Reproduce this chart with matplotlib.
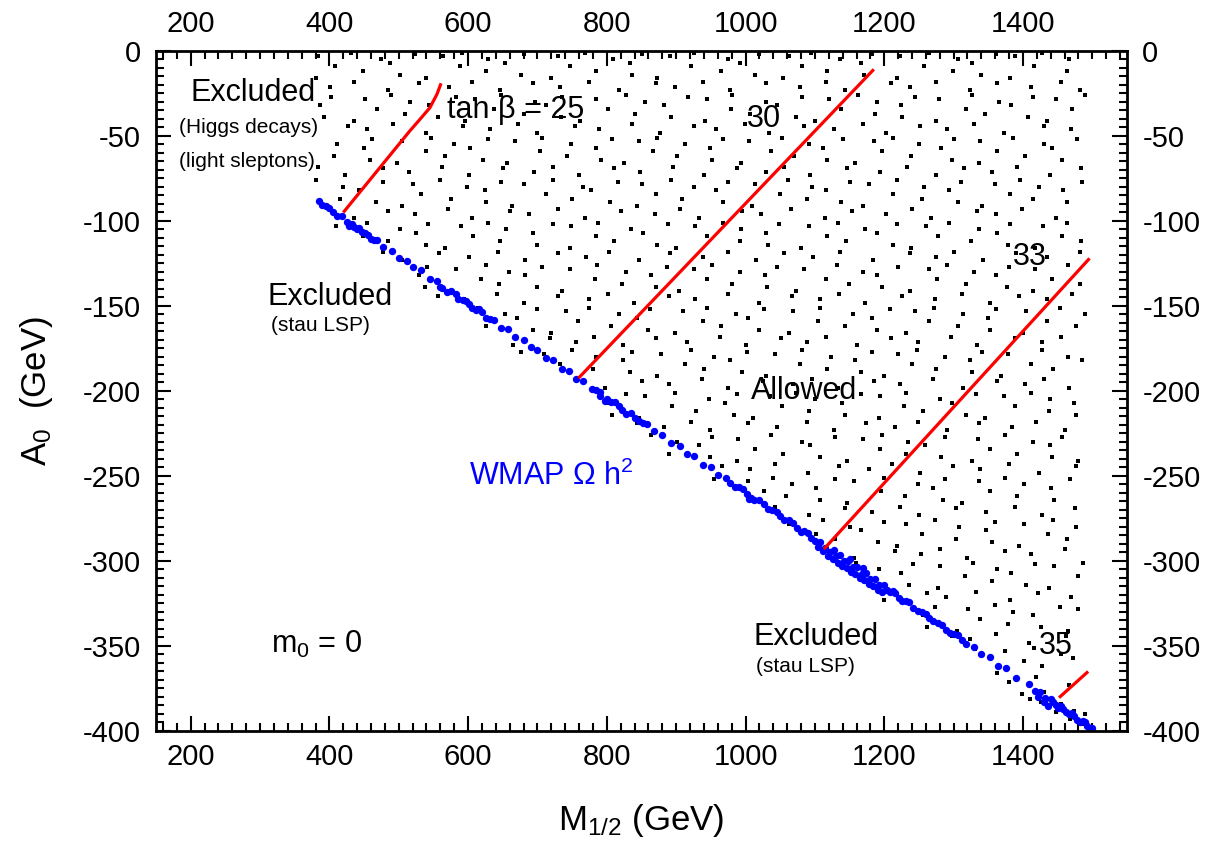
import numpy as np
import matplotlib
matplotlib.use('Agg')
import matplotlib.pyplot as plt
from matplotlib.ticker import MultipleLocator

plt.rcParams['font.family'] = ['Liberation Sans', 'DejaVu Sans']
plt.rcParams['axes.unicode_minus'] = False

# scanned (M1/2, A0) points passing all constraints, m0 = 0 (read band by band)
scan_pts = [
    # A0 0 .. -25
    (381,-16),(383,-3),(401,-21),(408,-9),(431,-1),(436,-18),(448,-12),(475,-5),(484,-23),(487,-7),
    (502,-14),(523,-2),(529,-19),(540,-16),(564,-3),(572,-21),(588,-9),(591,-1),(605,-18),(626,-12),
    (628,-5),(646,-23),(653,-7),(676,-14),(681,-2),(693,-19),(720,-16),(729,-3),(732,-21),(747,-9),
    (768,-1),(774,-18),(785,-12),(809,-5),(817,-23),(833,-7),(836,-14),(850,-2),(871,-19),(873,-16),
    (891,-3),(898,-21),(921,-9),(926,-1),(938,-18),(965,-12),(974,-5),(977,-23),(992,-7),(1013,-14),
    (1019,-2),(1030,-19),(1054,-16),(1062,-3),(1078,-21),(1081,-9),(1095,-1),(1116,-18),(1118,-12),(1136,-5),
    (1143,-23),(1166,-7),(1171,-14),(1183,-2),(1210,-19),(1219,-16),(1222,-3),(1237,-21),(1258,-9),(1264,-1),
    (1275,-18),(1299,-12),(1307,-5),(1323,-23),(1326,-7),(1340,-14),(1361,-2),(1363,-19),(1381,-16),(1388,-3),
    (1411,-21),(1416,-9),(1428,-1),(1455,-18),(1464,-12),(1467,-5),(1482,-23),
    # -25 .. -50
    (386,-32),(392,-39),(403,-27),(427,-44),(435,-41),(451,-28),(454,-46),(468,-34),(489,-26),(491,-43),
    (509,-37),(516,-30),(539,-48),(544,-32),(556,-39),(583,-27),(592,-44),(595,-41),(610,-28),(631,-46),
    (637,-34),(648,-26),(672,-43),(680,-37),(696,-30),(699,-48),(713,-32),(734,-39),(736,-27),(754,-44),
    (761,-41),(784,-28),(789,-46),(801,-34),(828,-26),(837,-43),(840,-37),(855,-30),(876,-48),(882,-32),
    (893,-39),(917,-27),(925,-44),(941,-41),(944,-28),(958,-46),(979,-34),(981,-26),(999,-43),(1006,-37),
    (1029,-30),(1034,-48),(1046,-32),(1073,-39),(1082,-27),(1085,-44),(1100,-41),(1121,-28),(1127,-46),(1138,-34),
    (1162,-26),(1170,-43),(1186,-37),(1189,-30),(1203,-48),(1224,-32),(1226,-39),(1244,-27),(1251,-44),(1274,-41),
    (1279,-28),(1291,-46),(1318,-34),(1327,-26),(1330,-43),(1345,-37),(1366,-30),(1372,-48),(1383,-32),(1407,-39),
    (1415,-27),(1431,-44),(1434,-41),(1448,-28),(1469,-46),(1471,-34),(1489,-26),
    # -50 .. -75
    (383,-68),(406,-62),(411,-55),(423,-73),(450,-57),(459,-64),(462,-52),(477,-69),(498,-66),(504,-53),
    (515,-71),(539,-59),(547,-51),(563,-68),(566,-62),(580,-55),(601,-73),(603,-57),(621,-64),(628,-52),
    (651,-69),(656,-66),(668,-53),(695,-71),(704,-59),(707,-51),(722,-68),(743,-62),(749,-55),(760,-73),
    (784,-57),(792,-64),(808,-52),(811,-69),(825,-66),(846,-53),(848,-71),(866,-59),(873,-51),(896,-68),
    (901,-62),(913,-55),(940,-73),(949,-57),(952,-64),(967,-52),(988,-69),(994,-66),(1005,-53),(1029,-71),
    (1037,-59),(1053,-51),(1056,-68),(1070,-62),(1091,-55),(1093,-73),(1111,-57),(1118,-64),(1141,-52),(1146,-69),
    (1158,-66),(1185,-53),(1194,-71),(1197,-59),(1212,-51),(1233,-68),(1239,-62),(1250,-55),(1274,-73),(1282,-57),
    (1298,-64),(1301,-52),(1315,-69),(1336,-66),(1338,-53),(1356,-71),(1363,-59),(1386,-51),(1391,-68),(1403,-62),
    (1430,-55),(1439,-73),(1442,-57),(1457,-64),(1478,-52),(1484,-69),
    # -75 .. -100
    (381,-76),(402,-93),(416,-87),(419,-80),(435,-98),(443,-82),(467,-89),(478,-77),(484,-94),(505,-91),
    (520,-78),(523,-96),(532,-84),(559,-76),(571,-93),(576,-87),(599,-80),(606,-98),(624,-82),(626,-89),
    (647,-77),(661,-94),(664,-91),(680,-78),(688,-96),(712,-84),(723,-76),(729,-93),(750,-87),(765,-80),
    (768,-98),(777,-82),(804,-89),(816,-77),(821,-94),(844,-91),(851,-78),(869,-96),(871,-84),(892,-76),
    (906,-93),(909,-87),(925,-80),(933,-98),(957,-82),(968,-89),(974,-77),(995,-94),(1010,-91),(1013,-78),
    (1022,-96),(1049,-84),(1061,-76),(1066,-93),(1089,-87),(1096,-80),(1114,-98),(1116,-82),(1137,-89),(1151,-77),
    (1154,-94),(1170,-91),(1178,-78),(1202,-96),(1213,-84),(1219,-76),(1240,-93),(1255,-87),(1258,-80),(1267,-98),
    (1294,-82),(1306,-89),(1311,-77),(1334,-94),(1341,-91),(1359,-78),(1361,-96),(1382,-84),(1396,-76),(1399,-93),
    (1415,-87),(1423,-80),(1447,-98),(1458,-82),(1464,-89),(1485,-77),
    # -100 .. -125
    (410,-103),(449,-109),(454,-101),(477,-118),(484,-112),(502,-105),(504,-123),(525,-107),(539,-114),(542,-102),
    (558,-119),(566,-116),(590,-103),(601,-121),(607,-109),(628,-101),(643,-118),(646,-112),(655,-105),(682,-123),
    (694,-107),(699,-114),(722,-102),(729,-119),(747,-116),(749,-103),(770,-121),(784,-109),(787,-101),(803,-118),
    (811,-112),(835,-105),(846,-123),(852,-107),(873,-114),(888,-102),(891,-119),(900,-116),(927,-103),(939,-121),
    (944,-109),(967,-101),(974,-118),(992,-112),(994,-105),(1015,-123),(1029,-107),(1032,-114),(1048,-102),(1056,-119),
    (1080,-116),(1091,-103),(1097,-121),(1118,-109),(1133,-101),(1136,-118),(1145,-112),(1172,-105),(1184,-123),(1189,-107),
    (1212,-114),(1219,-102),(1237,-119),(1239,-116),(1260,-103),(1274,-121),(1277,-109),(1293,-101),(1301,-118),(1325,-112),
    (1336,-105),(1342,-123),(1363,-107),(1378,-114),(1381,-102),(1390,-119),(1417,-116),(1429,-103),(1434,-121),(1457,-109),
    (1464,-101),(1482,-118),(1484,-112),
    # -125 .. -150
    (529,-132),(538,-139),(541,-127),(556,-144),(577,-141),(583,-128),(594,-146),(618,-134),(626,-126),(642,-143),
    (645,-137),(659,-130),(680,-148),(682,-132),(700,-139),(707,-127),(730,-144),(735,-141),(747,-128),(774,-146),
    (783,-134),(786,-126),(801,-143),(822,-137),(828,-130),(839,-148),(863,-132),(871,-139),(887,-127),(890,-144),
    (904,-141),(925,-128),(927,-146),(945,-134),(952,-126),(975,-143),(980,-137),(992,-130),(1019,-148),(1028,-132),
    (1031,-139),(1046,-127),(1067,-144),(1073,-141),(1084,-128),(1108,-146),(1116,-134),(1132,-126),(1135,-143),(1149,-137),
    (1170,-130),(1172,-148),(1190,-132),(1197,-139),(1220,-127),(1225,-144),(1237,-141),(1264,-128),(1273,-146),(1276,-134),
    (1291,-126),(1312,-143),(1318,-137),(1329,-130),(1353,-148),(1361,-132),(1377,-139),(1380,-127),(1394,-144),(1415,-141),
    (1417,-128),(1435,-146),(1442,-134),(1465,-126),(1470,-143),(1482,-137),
    # -150 .. -175
    (614,-151),(626,-162),(653,-155),(665,-173),(670,-157),(693,-164),(700,-152),(718,-169),(720,-166),(741,-153),
    (755,-171),(758,-159),(774,-151),(782,-168),(806,-162),(817,-155),(823,-173),(844,-157),(859,-164),(862,-152),
    (871,-169),(898,-166),(910,-153),(915,-171),(938,-159),(945,-151),(963,-168),(965,-162),(986,-155),(1000,-173),
    (1003,-157),(1019,-164),(1027,-152),(1051,-169),(1062,-166),(1068,-153),(1089,-171),(1104,-159),(1107,-151),(1116,-168),
    (1143,-162),(1155,-155),(1160,-173),(1183,-157),(1190,-164),(1208,-152),(1210,-169),(1231,-166),(1245,-153),(1248,-171),
    (1264,-159),(1272,-151),(1296,-168),(1307,-162),(1313,-155),(1334,-173),(1349,-157),(1352,-164),(1361,-152),(1388,-169),
    (1400,-166),(1405,-153),(1428,-171),(1435,-159),(1453,-151),(1455,-168),(1476,-162),(1490,-155),
    # -175 .. -200
    (676,-177),(709,-178),(732,-184),(750,-176),(757,-193),(780,-187),(785,-180),(797,-198),(824,-182),(833,-189),
    (836,-177),(851,-194),(872,-191),(878,-178),(889,-196),(913,-184),(921,-176),(937,-193),(940,-187),(954,-180),
    (975,-198),(977,-182),(995,-189),(1002,-177),(1025,-194),(1030,-191),(1042,-178),(1069,-196),(1078,-184),(1081,-176),
    (1096,-193),(1117,-187),(1123,-180),(1134,-198),(1158,-182),(1166,-189),(1182,-177),(1185,-194),(1199,-191),(1220,-178),
    (1222,-196),(1240,-184),(1247,-176),(1270,-193),(1275,-187),(1287,-180),(1314,-198),(1323,-182),(1326,-189),(1341,-177),
    (1362,-194),(1368,-191),(1379,-178),(1403,-196),(1411,-184),(1427,-176),(1430,-193),(1444,-187),(1465,-180),(1467,-198),
    (1485,-182),
    # -200 .. -225
    (801,-207),(807,-214),(828,-202),(843,-219),(846,-216),(855,-203),(882,-221),(894,-209),(899,-201),(922,-218),
    (929,-212),(947,-205),(949,-223),(970,-207),(984,-214),(987,-202),(1003,-219),(1011,-216),(1035,-203),(1046,-221),
    (1052,-209),(1073,-201),(1088,-218),(1091,-212),(1100,-205),(1127,-223),(1139,-207),(1144,-214),(1167,-202),(1174,-219),
    (1192,-216),(1194,-203),(1215,-221),(1229,-209),(1232,-201),(1248,-218),(1256,-212),(1280,-205),(1291,-223),(1297,-207),
    (1318,-214),(1333,-202),(1336,-219),(1345,-216),(1372,-203),(1384,-221),(1389,-209),(1412,-201),(1419,-218),(1437,-212),
    (1439,-205),(1460,-223),(1474,-207),(1477,-214),
    # -225 .. -250
    (863,-226),(890,-237),(901,-230),(933,-232),(949,-239),(952,-227),(966,-244),(987,-241),(989,-228),(1007,-246),
    (1014,-234),(1037,-226),(1042,-243),(1054,-237),(1081,-230),(1090,-248),(1093,-232),(1108,-239),(1129,-227),(1135,-244),
    (1146,-241),(1170,-228),(1178,-246),(1194,-234),(1197,-226),(1211,-243),(1232,-237),(1234,-230),(1252,-248),(1259,-232),
    (1282,-239),(1287,-227),(1299,-244),(1326,-241),(1335,-228),(1338,-246),(1353,-234),(1374,-226),(1380,-243),(1391,-237),
    (1415,-230),(1423,-248),(1439,-232),(1442,-239),(1456,-227),(1477,-244),(1479,-241),
    # -250 .. -275
    (955,-252),(1003,-253),(1026,-259),(1040,-251),(1043,-268),(1059,-262),(1067,-255),(1091,-273),(1102,-257),(1108,-264),
    (1129,-252),(1144,-269),(1147,-266),(1156,-253),(1183,-271),(1195,-259),(1200,-251),(1223,-268),(1230,-262),(1248,-255),
    (1250,-273),(1271,-257),(1285,-264),(1288,-252),(1304,-269),(1312,-266),(1336,-253),(1347,-271),(1353,-259),(1374,-251),
    (1389,-268),(1392,-262),(1401,-255),(1428,-273),(1440,-257),(1445,-264),(1468,-252),(1475,-269),
    # -275 .. -300
    (1063,-278),(1102,-284),(1111,-276),(1114,-293),(1129,-287),(1150,-280),(1156,-298),(1167,-282),(1191,-289),(1199,-277),
    (1215,-294),(1218,-291),(1232,-278),(1253,-296),(1255,-284),(1273,-276),(1280,-293),(1303,-287),(1308,-280),(1320,-298),
    (1347,-282),(1356,-289),(1359,-277),(1374,-294),(1395,-291),(1401,-278),(1412,-296),(1436,-284),(1444,-276),(1460,-293),
    (1463,-287),(1477,-280),
    # -300 .. -325
    (1159,-301),(1176,-312),(1192,-305),(1200,-323),(1224,-307),(1235,-314),(1241,-302),(1262,-319),(1277,-316),(1280,-303),
    (1289,-321),(1316,-309),(1328,-301),(1333,-318),(1356,-312),(1363,-305),(1381,-323),(1383,-307),(1404,-314),(1418,-302),
    (1421,-319),(1437,-316),(1445,-303),(1469,-321),(1480,-309),(1486,-301),
    # -325 .. -350
    (1256,-332),(1262,-339),(1273,-327),(1297,-344),(1305,-341),(1321,-328),(1324,-346),(1338,-334),(1359,-326),(1361,-343),
    (1379,-337),(1386,-330),(1409,-348),(1414,-332),(1426,-339),(1453,-327),(1462,-344),(1465,-341),(1480,-328),
    # -350 .. -400
    (1331,-352),(1363,-366),(1374,-353),(1380,-371),(1401,-359),(1416,-351),(1419,-368),(1428,-362),(1455,-355),(1467,-373),
    (1472,-357),
    (1398,-378),(1410,-381),(1426,-383),(1431,-377),(1447,-389),(1455,-384),(1468,-393),(1474,-388),(1486,-396),(1489,-390),
]

# points with WMAP relic density
wmap_pts = [
    (385,-88.0),(390,-90.4),(395,-91.0),(400,-92.6),(405,-94.9),(411,-96.9),(418,-97.2),(425,-100.6),(428,-102.8),(433,-101.5),
    (436,-103.6),(440,-104.8),(443,-104.0),(447,-106.5),(452,-106.9),(456,-108.0),(460,-110.5),(464,-111.0),(468,-111.2),(478,-115.4),
    (490,-117.5),(500,-121.6),(512,-123.3),(520,-127.1),(532,-129.0),(545,-133.9),(555,-135.2),(560,-138.6),(563,-139.5),(570,-141.8),
    (575,-140.9),(582,-143.0),(586,-145.8),(593,-146.3),(597,-146.9),(602,-148.6),(606,-151.0),(611,-152.4),(615,-152.0),(620,-153.7),
    (626,-156.8),(632,-157.8),(638,-158.4),(648,-162.7),(657,-163.8),(668,-168.3),(680,-169.9),(690,-174.4),(700,-175.6),(712,-180.5),
    (722,-181.7),(735,-186.9),(746,-188.3),(756,-192.8),(766,-193.9),(778,-198.8),(784,-199.3),(790,-200.6),(790,-203.0),(798,-205.8),
    (800,-205.0),(806,-206.3),(812,-206.6),(817,-209.0),(822,-211.2),(828,-213.4),(835,-213.0),(841,-215.6),(846,-217.8),(852,-218.9),
    (858,-219.4),(868,-223.8),(880,-225.6),(892,-230.5),(905,-232.4),(915,-236.9),(926,-238.3),(938,-243.3),(950,-244.9),(961,-249.7),
    (972,-251.0),(978,-254.2),(985,-256.3),(990,-256.4),(996,-257.7),(1002,-260.8),(1005,-263.4),(1008,-262.7),(1012,-264.0),(1020,-264.4),
    (1026,-266.5),(1032,-269.4),(1038,-270.0),(1045,-271.3),(1050,-273.4),(1056,-276.1),(1062,-275.9),(1068,-277.7),(1074,-280.4),(1080,-282.7),
    (1085,-282.3),(1090,-283.8),(1095,-286.6),(1100,-288.3),(1104,-291.5),(1108,-289.0),(1112,-294.0),(1115,-292.6),(1119,-296.8),(1122,-294.5),
    (1126,-299.1),(1128,-293.8),(1130,-296.9),(1133,-301.0),(1136,-296.6),(1139,-303.2),(1142,-300.2),(1146,-304.4),(1148,-299.9),(1150,-298.6),
    (1152,-306.5),(1155,-303.8),(1158,-307.9),(1161,-303.5),(1165,-310.1),(1168,-307.4),(1170,-304.0),(1171,-311.2),(1174,-307.2),(1178,-313.6),
    (1180,-310.8),(1184,-314.8),(1187,-310.8),(1191,-316.9),(1193,-314.2),(1197,-318.0),(1200,-314.4),(1204,-317.1),(1208,-318.4),(1212,-317.8),
    (1216,-319.0),(1221,-321.6),(1226,-323.3),(1231,-323.5),(1236,-324.4),(1242,-327.6),(1248,-329.4),(1254,-330.0),(1260,-331.1),(1265,-333.8),
    (1270,-335.5),(1277,-336.2),(1283,-337.4),(1289,-340.6),(1295,-342.4),(1300,-342.7),(1306,-343.8),(1312,-346.6),(1318,-348.8),(1330,-350.4),
    (1340,-355.0),(1352,-356.6),(1364,-361.6),(1376,-363.2),(1390,-368.8),(1408,-372.1),(1418,-376.6),(1422,-379.8),(1425,-377.0),(1430,-383.0),
    (1432,-380.6),(1436,-385.5),(1440,-381.0),(1443,-383.0),(1447,-384.6),(1451,-386.5),(1455,-385.2),(1458,-387.1),(1462,-388.8),(1466,-390.2),
    (1470,-389.4),(1474,-391.3),(1478,-393.3),(1482,-394.7),(1486,-393.9),(1490,-395.0),(1493,-397.3),(1497,-398.8),(1500,-398.0),
]

# tan(beta) contours
tb25_m = [420, 516, 531, 545, 555, 561]
tb25_a = [-95, -47, -40, -33.3, -25.5, -19]
tb30_m = [759, 1185]
tb30_a = [-192.5, -10.8]
tb33_m = [1113, 1496]
tb33_a = [-293, -122]
tb35_m = [1452, 1494]
tb35_a = [-380.4, -365]

scan = np.array(scan_pts)
wmap = np.array(wmap_pts)

fig = plt.figure(figsize=(12.16, 8.44), dpi=100)
ax = fig.add_axes([0.1283, 0.1339, 0.7985, 0.8057])

ax.plot(scan[:, 0], scan[:, 1], 's', color='black', markersize=2.6, markeredgewidth=0)
ax.plot(wmap[:, 0], wmap[:, 1], 'o', color='#0000ff', markersize=5.3, markeredgewidth=0)

for m, a in [(tb25_m, tb25_a), (tb30_m, tb30_a), (tb33_m, tb33_a), (tb35_m, tb35_a)]:
    ax.plot(m, a, '-', color='#ff0000', linewidth=2.3, solid_capstyle='butt')

big = 22
small = 15
ax.text(290, -25, 'Excluded', fontsize=big, ha='center', va='center')
ax.text(283, -45, '(Higgs decays)', fontsize=small, ha='center', va='center')
ax.text(281, -65, '(light sleptons)', fontsize=small, ha='center', va='center')
ax.text(668, -35, 'tan β = 25', fontsize=big, ha='center', va='center')
ax.text(1026, -40, '30', fontsize=big, ha='center', va='center')
ax.text(1410, -121, '33', fontsize=big, ha='center', va='center')
ax.text(1447, -350, '35', fontsize=big, ha='center', va='center')
ax.text(1084, -200, 'Allowed', fontsize=big, ha='center', va='center')
ax.text(401, -145, 'Excluded', fontsize=big, ha='center', va='center')
ax.text(387, -161.5, '(stau LSP)', fontsize=small, ha='center', va='center')
ax.text(601, -250, r'WMAP Ω h$\mathregular{^2}$', fontsize=big, color='#0000ff', ha='left', va='center')
ax.text(1101, -345, 'Excluded', fontsize=big, ha='center', va='center')
ax.text(1086, -362, '(stau LSP)', fontsize=small, ha='center', va='center')
ax.text(381, -349, r'$\mathregular{m_0}$ = 0', fontsize=big, ha='center', va='center')

ax.set_xlim(150, 1550)
ax.set_ylim(-400, 0)
ax.xaxis.set_major_locator(MultipleLocator(200))
ax.xaxis.set_minor_locator(MultipleLocator(20))
ax.yaxis.set_major_locator(MultipleLocator(50))
ax.yaxis.set_minor_locator(MultipleLocator(5))
ax.tick_params(which='both', direction='in', top=True, right=True,
               labeltop=True, labelright=True, labelsize=21, width=1.5)
ax.tick_params(which='major', length=11)
ax.tick_params(which='minor', length=5.5)
ax.tick_params(axis='x', pad=9)
ax.tick_params(axis='y', pad=11)
for s in ax.spines.values():
    s.set_linewidth(2)

ax.set_xlabel(r'$\mathregular{M_{1/2}}$ (GeV)', fontsize=25)
ax.set_ylabel(r'$\mathregular{A_0}$  (GeV)', fontsize=25)
ax.xaxis.set_label_coords(0.5, -0.105)
ax.yaxis.set_label_coords(-0.104, 0.5)

fig.savefig('out.png', dpi=100)
